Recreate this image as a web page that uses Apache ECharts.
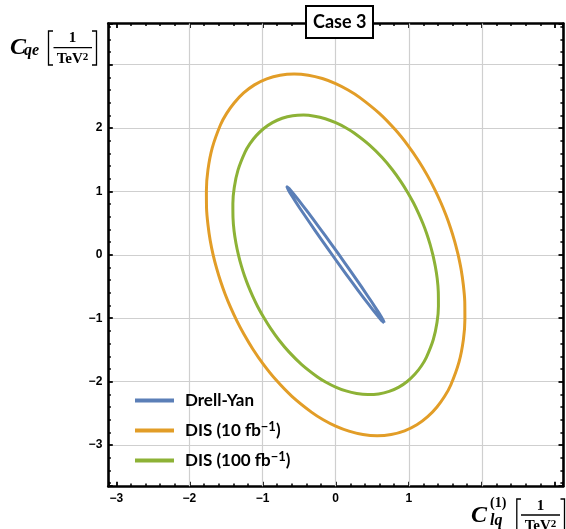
<!DOCTYPE html>
<html><head><meta charset="utf-8">
<script src="https://cdn.jsdelivr.net/npm/echarts/dist/echarts.min.js"></script>
<style>html,body{margin:0;padding:0;background:#fff}#c{width:566px;height:529px}</style>
</head><body><div id="c"></div>
<script>
// ---- data (contour points, [C_lq, C_qe]) ----
const seriesNames = ['Drell-Yan', 'DIS (10 fb\u207B\u00B9)', 'DIS (100 fb\u207B\u00B9)'];
const seriesColors = ['#5B7FB7', '#E29D27', '#8DB236'];
const drellYan = [
  [0.665,-1.073],[0.663,-1.060],[0.650,-1.030],[0.626,-0.981],[0.591,-0.916],[0.546,-0.836],
  [0.492,-0.740],[0.429,-0.633],[0.359,-0.514],[0.283,-0.387],[0.202,-0.253],[0.117,-0.114],
  [0.031,0.026],[-0.056,0.166],[-0.142,0.303],[-0.226,0.435],[-0.306,0.559],[-0.380,0.674],
  [-0.449,0.777],[-0.509,0.867],[-0.561,0.942],[-0.603,1.001],[-0.634,1.043],[-0.655,1.067],
  [-0.665,1.073],[-0.663,1.060],[-0.650,1.030],[-0.626,0.981],[-0.591,0.916],[-0.546,0.836],
  [-0.492,0.740],[-0.429,0.633],[-0.359,0.514],[-0.283,0.387],[-0.202,0.253],[-0.117,0.114],
  [-0.031,-0.026],[0.056,-0.166],[0.142,-0.303],[0.226,-0.435],[0.306,-0.559],[0.380,-0.674],
  [0.449,-0.777],[0.509,-0.867],[0.561,-0.942],[0.603,-1.001],[0.634,-1.043],[0.655,-1.067],
  [0.665,-1.073]
];
const dis10 = [
  [1.676,0],[1.628,0.214],[1.573,0.421],[1.510,0.625],[1.437,0.830],[1.353,1.038],
  [1.254,1.254],[1.136,1.481],[0.993,1.720],[0.817,1.972],[0.598,2.232],[0.327,2.485],
  [0.170,2.601],[0,2.702],[-0.182,2.782],[-0.373,2.835],[-0.568,2.854],[-0.760,2.835],
  [-0.943,2.777],[-1.111,2.682],[-1.259,2.554],[-1.386,2.400],[-1.491,2.232],[-1.575,2.053],
  [-1.688,1.688],[-1.747,1.341],[-1.768,1.021],[-1.766,0.732],[-1.746,0.468],[-1.716,0.226],
  [-1.676,0],[-1.628,-0.214],[-1.573,-0.421],[-1.510,-0.625],[-1.437,-0.830],[-1.353,-1.038],
  [-1.254,-1.254],[-1.136,-1.481],[-0.993,-1.720],[-0.817,-1.972],[-0.598,-2.232],[-0.327,-2.485],
  [-0.170,-2.601],[0,-2.702],[0.182,-2.782],[0.373,-2.835],[0.568,-2.854],[0.760,-2.835],
  [0.943,-2.777],[1.111,-2.682],[1.259,-2.554],[1.386,-2.400],[1.491,-2.232],[1.575,-2.053],
  [1.688,-1.688],[1.747,-1.341],[1.768,-1.021],[1.766,-0.732],[1.746,-0.468],[1.716,-0.226],
  [1.676,0]
];
const dis100 = [
  [1.330,0],[1.291,0.170],[1.246,0.334],[1.194,0.494],[1.134,0.655],[1.066,0.818],
  [0.985,0.985],[0.890,1.160],[0.776,1.343],[0.636,1.535],[0.464,1.731],[0.253,1.922],
  [0.132,2.009],[0,2.085],[-0.141,2.147],[-0.288,2.188],[-0.439,2.205],[-0.588,2.195],
  [-0.732,2.155],[-0.865,2.087],[-0.983,1.994],[-1.086,1.881],[-1.172,1.754],[-1.241,1.617],
  [-1.336,1.336],[-1.387,1.064],[-1.406,0.812],[-1.404,0.582],[-1.389,0.372],[-1.363,0.180],
  [-1.330,0],[-1.291,-0.170],[-1.246,-0.334],[-1.194,-0.494],[-1.134,-0.655],[-1.066,-0.818],
  [-0.985,-0.985],[-0.890,-1.160],[-0.776,-1.343],[-0.636,-1.535],[-0.464,-1.731],[-0.253,-1.922],
  [-0.132,-2.009],[0,-2.085],[0.141,-2.147],[0.288,-2.188],[0.439,-2.205],[0.588,-2.195],
  [0.732,-2.155],[0.865,-2.087],[0.983,-1.994],[1.086,-1.881],[1.172,-1.754],[1.241,-1.617],
  [1.336,-1.336],[1.387,-1.064],[1.406,-0.812],[1.404,-0.582],[1.389,-0.372],[1.363,-0.180],
  [1.330,0]
];
const xTickLabels = [-3, -2, -1, 0, 1];
const yTickLabels = [-3, -2, -1, 0, 1, 2];
const xGridLines = [-2, -1, 0, 1, 2];
const xRange = [-3.11, 3.11];
const yRange = [-3.65, 3.65];

// ---- chart ----
const chart = echarts.init(document.getElementById('c'), null, {renderer: 'canvas'});
function fmt(list) {
  return function (v) {
    const r = Math.round(v);
    if (Math.abs(v - r) > 1e-6 || list.indexOf(r) < 0) return '';
    return r < 0 ? '\u2212' + Math.abs(r) : String(r);
  };
}
const labelFont = {color: '#000', fontFamily: 'Liberation Sans', fontWeight: 'bold', fontSize: 12};
function axisBase(extra) {
  return Object.assign({
    type: 'value', minInterval: 1, maxInterval: 1,
    axisLine: {show: true, onZero: false, lineStyle: {color: '#000', width: 2.6}},
    axisTick: {show: true, inside: true, length: 4.5, lineStyle: {color: '#000', width: 1.8}},
    minorTick: {show: true, splitNumber: 5, length: 2.6, lineStyle: {color: '#000', width: 1.5}},
    splitLine: {show: false}
  }, extra);
}
const serif = '"Liberation Serif", "DejaVu Serif", serif';
function txt(x, y, text, font, align, rich) {
  const st = {text: text, font: font, fill: '#000', textAlign: align || 'left', align: align || 'left',
              textVerticalAlign: 'middle', verticalAlign: 'middle'};
  if (rich) st.rich = rich;
  return {type: 'text', x: x, y: y, z: 100, style: st};
}
function line(points, w) {
  return {type: 'polyline', z: 100, shape: {points: points}, style: {stroke: '#000', lineWidth: w || 1.3, fill: null}};
}
const supRich = {s: {font: 'bold 11px ' + serif, verticalAlign: 'top', lineHeight: 10}};
function ellipseSeries(i, data, extra) {
  return Object.assign({
    name: seriesNames[i], type: 'line', data: data, symbol: 'none', smooth: 0.3, z: 4,
    lineStyle: {color: seriesColors[i], width: 3, join: 'round'}, itemStyle: {color: seriesColors[i]}
  }, extra || {});
}

const option = {
  animation: false,
  backgroundColor: '#fff',
  title: {
    text: 'Case 3', left: 306, top: 6, padding: [5, 7, 5, 7],
    borderWidth: 2, borderColor: '#000', backgroundColor: '#fff',
    textStyle: {fontFamily: 'Lato', fontWeight: 'bold', fontSize: 18, color: '#000', lineHeight: 22}
  },
  grid: {left: 108.3, top: 23.5, width: 461.2, height: 462.7, containLabel: false},
  legend: {
    orient: 'vertical', left: 130, top: 385.5, itemWidth: 39, itemHeight: 4, itemGap: 10, icon: 'rect',
    data: seriesNames,
    formatter: function (name) {
      return name.replace('\u207B\u00B9', '{sup|\u22121}');
    },
    textStyle: {
      fontFamily: 'Lato', fontWeight: 'bold', fontSize: 17, color: '#000', lineHeight: 20, padding: [0, 0, 0, 6],
      rich: {sup: {fontFamily: 'Lato', fontWeight: 'bold', fontSize: 13, color: '#000', verticalAlign: 'top', lineHeight: 11}}
    }
  },
  xAxis: [
    axisBase({position: 'bottom', min: xRange[0], max: xRange[1],
      axisLabel: Object.assign({formatter: fmt(xTickLabels), margin: 6}, labelFont)}),
    axisBase({position: 'top', min: xRange[0], max: xRange[1], axisLabel: {show: false}})
  ],
  yAxis: [
    axisBase({position: 'left', min: yRange[0], max: yRange[1],
      splitLine: {show: true, lineStyle: {color: '#cfcfcf', width: 1.2}},
      axisLabel: Object.assign({formatter: fmt(yTickLabels), margin: 6}, labelFont)}),
    axisBase({position: 'right', min: yRange[0], max: yRange[1], axisLabel: {show: false}})
  ],
  series: [
    ellipseSeries(0, drellYan, {smooth: false,
      markLine: {silent: true, z: 1, symbol: ['none', 'none'], label: {show: false},
        lineStyle: {color: '#cfcfcf', type: 'solid', width: 1.2},
        emphasis: {disabled: true},
        data: xGridLines.map(function (v) { return {xAxis: v}; })}}),
    ellipseSeries(1, dis10),
    ellipseSeries(2, dis100)
  ],
  graphic: [
    // y-axis title: C_qe [1/TeV^2]
    txt(10, 47.5, 'C', 'italic bold 24px ' + serif),
    txt(24, 50.5, 'qe', 'italic bold 16px ' + serif),
    line([[53, 31], [48.5, 31], [48.5, 65], [53, 65]]),
    line([[92, 31], [96.5, 31], [96.5, 65], [92, 65]]),
    txt(72.5, 38.5, '1', 'bold 15px ' + serif, 'center'),
    line([[53.5, 47.7], [92, 47.7]]),
    txt(72.5, 59, 'TeV{s|2}', 'bold 15px ' + serif, 'center', supRich),
    // x-axis title: C_lq^(1) [1/TeV^2]
    txt(471, 515.5, 'C', 'italic bold 24px ' + serif),
    txt(490, 503.5, '(1)', 'bold 14px ' + serif),
    txt(490, 520.5, 'lq', 'italic bold 16px ' + serif),
    line([[521, 499], [516.8, 499], [516.8, 540], [521, 540]]),
    line([[560.5, 499], [564.5, 499], [564.5, 540], [560.5, 540]]),
    txt(540.5, 506.5, '1', 'bold 15px ' + serif, 'center'),
    line([[521, 515], [560, 515]]),
    txt(540.5, 526, 'TeV{s|2}', 'bold 15px ' + serif, 'center', supRich)
  ]
};
chart.setOption(option);
</script>
</body></html>
